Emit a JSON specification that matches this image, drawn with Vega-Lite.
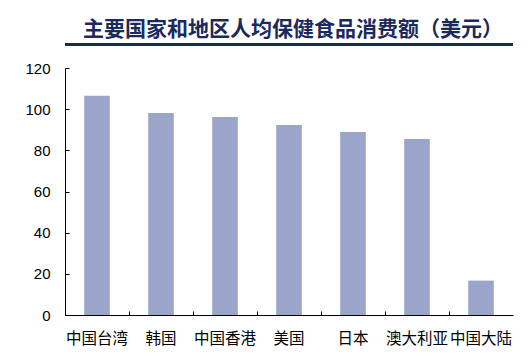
{
  "$schema": "https://vega.github.io/schema/vega-lite/v6.json",
  "width": 448,
  "height": 247,
  "autosize": "none",
  "padding": {"left": 65, "top": 68, "right": 19, "bottom": 39},
  "background": "white",
  "title": {
    "text": "主要国家和地区人均保健食品消费额（美元）",
    "font": "Noto Sans CJK SC",
    "fontSize": 21,
    "fontWeight": "bold",
    "color": "#1b2a5c",
    "anchor": "middle",
    "dx": 4,
    "offset": 3
  },
  "config": {"view": {"stroke": null}},
  "data": {
    "values": [
      {"region": "中国台湾", "value": 106.5},
      {"region": "韩国", "value": 98.1},
      {"region": "中国香港", "value": 96.2},
      {"region": "美国", "value": 92.3},
      {"region": "日本", "value": 88.9},
      {"region": "澳大利亚", "value": 85.5},
      {"region": "中国大陆", "value": 16.7}
    ]
  },
  "layer": [
    {
      "mark": {"type": "bar", "color": "#9aa6c9", "width": {"band": 0.4}},
      "encoding": {
        "x": {
          "field": "region",
          "type": "nominal",
          "sort": null,
          "scale": {"paddingInner": 0, "paddingOuter": 0},
          "axis": {
            "title": null,
            "labelAngle": 0,
            "labelFont": "Noto Sans CJK SC",
            "labelFontSize": 15.5,
            "labelColor": "#000",
            "labelPadding": 20,
            "labelOverlap": false,
            "labelBound": false,
            "domainColor": "#000",
            "tickColor": "#000",
            "tickSize": -4,
            "bandPosition": 0
          }
        },
        "y": {
          "field": "value",
          "type": "quantitative",
          "scale": {"domain": [0, 120]},
          "axis": {
            "title": null,
            "values": [0, 20, 40, 60, 80, 100, 120],
            "grid": false,
            "labelFont": "Liberation Sans",
            "labelFontSize": 15,
            "labelColor": "#000",
            "labelPadding": 19,
            "domainColor": "#000",
            "tickColor": "#000",
            "tickSize": -4
          }
        }
      }
    },
    {
      "mark": {"type": "rule", "color": "#1b2a5c", "strokeWidth": 2.5, "clip": false},
      "encoding": {"y": {"datum": 131.5}}
    }
  ]
}
